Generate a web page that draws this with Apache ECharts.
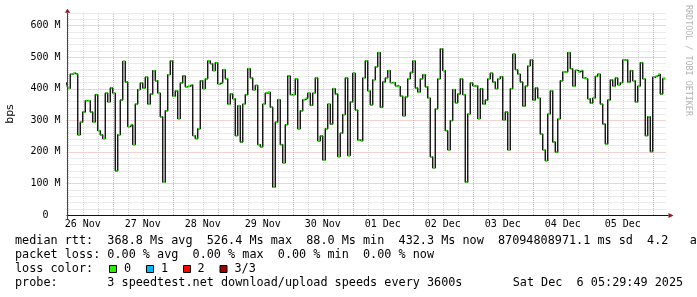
<!DOCTYPE html>
<html><head><meta charset="utf-8">
<script src="https://cdn.jsdelivr.net/npm/echarts@6/dist/echarts.min.js"></script>
<style>html,body{margin:0;padding:0;background:#fff}#c{width:697px;height:297px}</style>
</head><body><div id="c"></div>
<script>
// x values are hours since 26 Nov 00:00
const dayLabels = ['26 Nov','27 Nov','28 Nov','29 Nov','30 Nov','01 Dec','02 Dec','03 Dec','04 Dec','05 Dec'];
const startHour = 5.5;    // 26 Nov 05:29:49
const endHour = 245.5;    // 06 Dec 05:29:49
const firstStepEnd = 6;   // first hourly step ends 26 Nov 06:00
const yMax = 640;
const yTickValues = [0,100,200,300,400,500,600];
// hourly median values (M bps)
const medianValues = [
420,401,446,449,446,254,294,326,362,362,326,294,381,267,254,242,386,358,402,386,140,254,364,486,421,280,286,223,351,397,418,402,436,351,383,457,425,386,311,104,330,444,488,376,393,305,418,440,406,408,
412,251,242,273,425,400,431,488,479,457,482,415,419,460,431,351,383,368,251,346,231,351,381,463,434,396,410,223,216,351,386,389,341,88,294,365,223,165,286,440,381,381,431,273,330,365,370,386,347,
386,434,235,250,174,273,351,288,400,383,185,259,318,434,188,358,449,332,237,235,434,488,393,349,428,469,514,341,421,434,457,419,419,409,406,376,314,374,431,451,488,402,389,431,444,406,370,
184,149,336,431,526,457,267,206,299,397,355,383,431,381,104,320,418,409,409,305,400,351,364,431,449,421,400,431,438,301,326,206,400,509,460,446,421,345,408,472,491,364,402,370,256,206,172,
320,393,231,199,304,425,453,453,514,463,408,458,453,457,434,431,368,354,370,439,446,351,288,225,364,428,408,434,412,419,491,491,421,457,425,358,408,482,431,251,311,201,436,440,446,383,432
];
const lossLabels = ['0','1','2','3/3'];
const lossColors = ['#26f000','#00b8ff','#ff0000','#a00000'];
const legendLines = [
  'median rtt:  368.8 Ms avg  526.4 Ms max  88.0 Ms min  432.3 Ms now  87094808971.1 ms sd  4.2   a',
  'packet loss: 0.00 % avg  0.00 % max  0.00 % min  0.00 % now',
  'loss color:',
  'probe:       3 speedtest.net download/upload speeds every 3600s'
];
const timestampText = 'Sat Dec  6 05:29:49 2025';
const watermark = 'RRDTOOL / TOBI OETIKER';

// build step intervals
const steps = medianValues.map((v, i) => {
  const a = Math.max(startHour, firstStepEnd - 1 + i);
  const b = firstStepEnd + i;
  return [a, b, v];
});
const lineData = [];
steps.forEach(s => { lineData.push([s[0], s[2]]); lineData.push([s[1], s[2]]); });

const vGrid = [];
for (let h = 6; h < endHour; h += 6) vGrid.push([h]);
const hGrid = [];
for (let v = 20; v <= yMax; v += 20) hGrid.push([startHour, v]);
const dayCenters = dayLabels.map((d, i) => 12 + 24 * i);

const MONO = '"DejaVu Sans Mono", monospace';
const minorCol = '#d6d6d6', majorCol = '#eaa4a4';

const chart = echarts.init(document.getElementById('c'), null, {renderer: 'canvas'});
const graphic = [];
legendLines.forEach((t, i) => {
  graphic.push({type: 'text', x: 15, y: 241 + 14 * i, z: 10,
    style: {text: t, font: '11.8px ' + MONO, fill: '#000', textAlign: 'left', textVerticalAlign: 'middle'}});
});
const boxX = [109, 146, 183, 219.5];
const lblX = [124, 161, 197.5, 234.5];
lossLabels.forEach((t, i) => {
  graphic.push({type: 'rect', z: 10, shape: {x: boxX[i] + 0.5, y: 265.5, width: 7, height: 7},
    style: {fill: lossColors[i], stroke: '#000', lineWidth: 1}});
  graphic.push({type: 'text', x: lblX[i], y: 269, z: 10,
    style: {text: t, font: '11.8px ' + MONO, fill: '#000', textAlign: 'left', textVerticalAlign: 'middle'}});
});
graphic.push({type: 'text', x: 512.7, y: 283, z: 10,
  style: {text: timestampText, font: '11.8px ' + MONO, fill: '#000', textAlign: 'left', textVerticalAlign: 'middle'}});
graphic.push({type: 'text', x: 10, y: 114, rotation: Math.PI / 2, z: 10,
  style: {text: 'bps', font: '11px "DejaVu Sans", sans-serif', fill: '#000', textAlign: 'center', textVerticalAlign: 'middle'}});
graphic.push({type: 'text', x: 688, y: 5, rotation: -Math.PI / 2, z: 10,
  style: {text: watermark, font: '8.4px ' + MONO, fill: '#b4b4b4', textAlign: 'left', textVerticalAlign: 'middle'}});

chart.setOption({
  animation: false,
  backgroundColor: '#ffffff',
  grid: {left: 66.5, right: 30.5, top: 12.8, bottom: 82, containLabel: false},
  xAxis: {
    type: 'value', min: startHour, max: endHour,
    axisLine: {show: false}, axisTick: {show: false}, splitLine: {show: false},
    axisLabel: {
      customValues: dayCenters, margin: 4, color: '#000', fontFamily: MONO, fontSize: 10,
      formatter: v => dayLabels[Math.round((v - 12) / 24)] || ''
    }
  },
  yAxis: {
    type: 'value', min: 0, max: yMax, interval: 20,
    axisLine: {show: false}, axisTick: {show: false}, splitLine: {show: false},
    axisLabel: {
      interval: 0, margin: 6, color: '#000', fontFamily: MONO, fontSize: 10,
      formatter: v => yTickValues.indexOf(v) < 0 ? '' : (v === 0 ? '0  ' : v + ' M')
    }
  },
  graphic: graphic,
  series: [
    { // horizontal grid
      type: 'custom', z: 0, silent: true, data: hGrid,
      renderItem: (params, api) => {
        const v = api.value(1);
        const p0 = api.coord([startHour, v]), p1 = api.coord([endHour, v]);
        const y = Math.round(p0[1]) + 0.5;
        return {type: 'line', shape: {x1: p0[0], y1: y, x2: p1[0], y2: y},
          style: {stroke: v % 100 === 0 ? majorCol : minorCol, lineWidth: 1, lineDash: [1, 1]}};
      }
    },
    { // vertical grid
      type: 'custom', z: 0, silent: true, data: vGrid,
      renderItem: (params, api) => {
        const h = api.value(0);
        const p0 = api.coord([h, 0]), p1 = api.coord([h, yMax]);
        const x = Math.round(p0[0]) + 0.5;
        return {type: 'line', shape: {x1: x, y1: p0[1], x2: x, y2: p1[1]},
          style: {stroke: h % 24 === 0 ? majorCol : minorCol, lineWidth: 1, lineDash: [1, 1]}};
      }
    },
    { // black step line
      type: 'line', z: 2, silent: true, data: lineData, showSymbol: false,
      lineStyle: {color: '#000', width: 1.3}
    },
    { // green median segments
      type: 'custom', z: 3, silent: true, data: steps,
      renderItem: (params, api) => {
        const p0 = api.coord([api.value(0), api.value(2)]);
        const p1 = api.coord([api.value(1), api.value(2)]);
        return {type: 'line', shape: {x1: p0[0] + 0.3, y1: p0[1], x2: p1[0] - 0.3, y2: p1[1]},
          style: {stroke: lossColors[0], lineWidth: 1.7}};
      }
    },
    { // axes with arrows
      type: 'custom', z: 5, silent: true, clip: false, data: [[startHour, 0]],
      renderItem: (params, api) => {
        const o = api.coord([startHour, 0]);
        const xe = api.coord([endHour, 0]);
        const yt = api.coord([startHour, yMax]);
        const ox = Math.round(o[0]) + 0.5, oy = Math.round(o[1]) + 0.5;
        return {type: 'group', children: [
          {type: 'line', shape: {x1: ox - 1, y1: oy, x2: xe[0] + 2, y2: oy}, style: {stroke: '#111', lineWidth: 1}},
          {type: 'line', shape: {x1: ox, y1: oy + 4, x2: ox, y2: yt[1]}, style: {stroke: '#444', lineWidth: 1}},
          {type: 'polygon', shape: {points: [[xe[0] + 2, oy - 2.5], [xe[0] + 7, oy], [xe[0] + 2, oy + 2.5]]}, style: {fill: '#8a1c1c'}},
          {type: 'polygon', shape: {points: [[ox - 2.7, yt[1]], [ox, yt[1] - 4], [ox + 2.7, yt[1]]]}, style: {fill: '#8a1c1c'}}
        ]};
      }
    }
  ]
});
</script></body></html>
